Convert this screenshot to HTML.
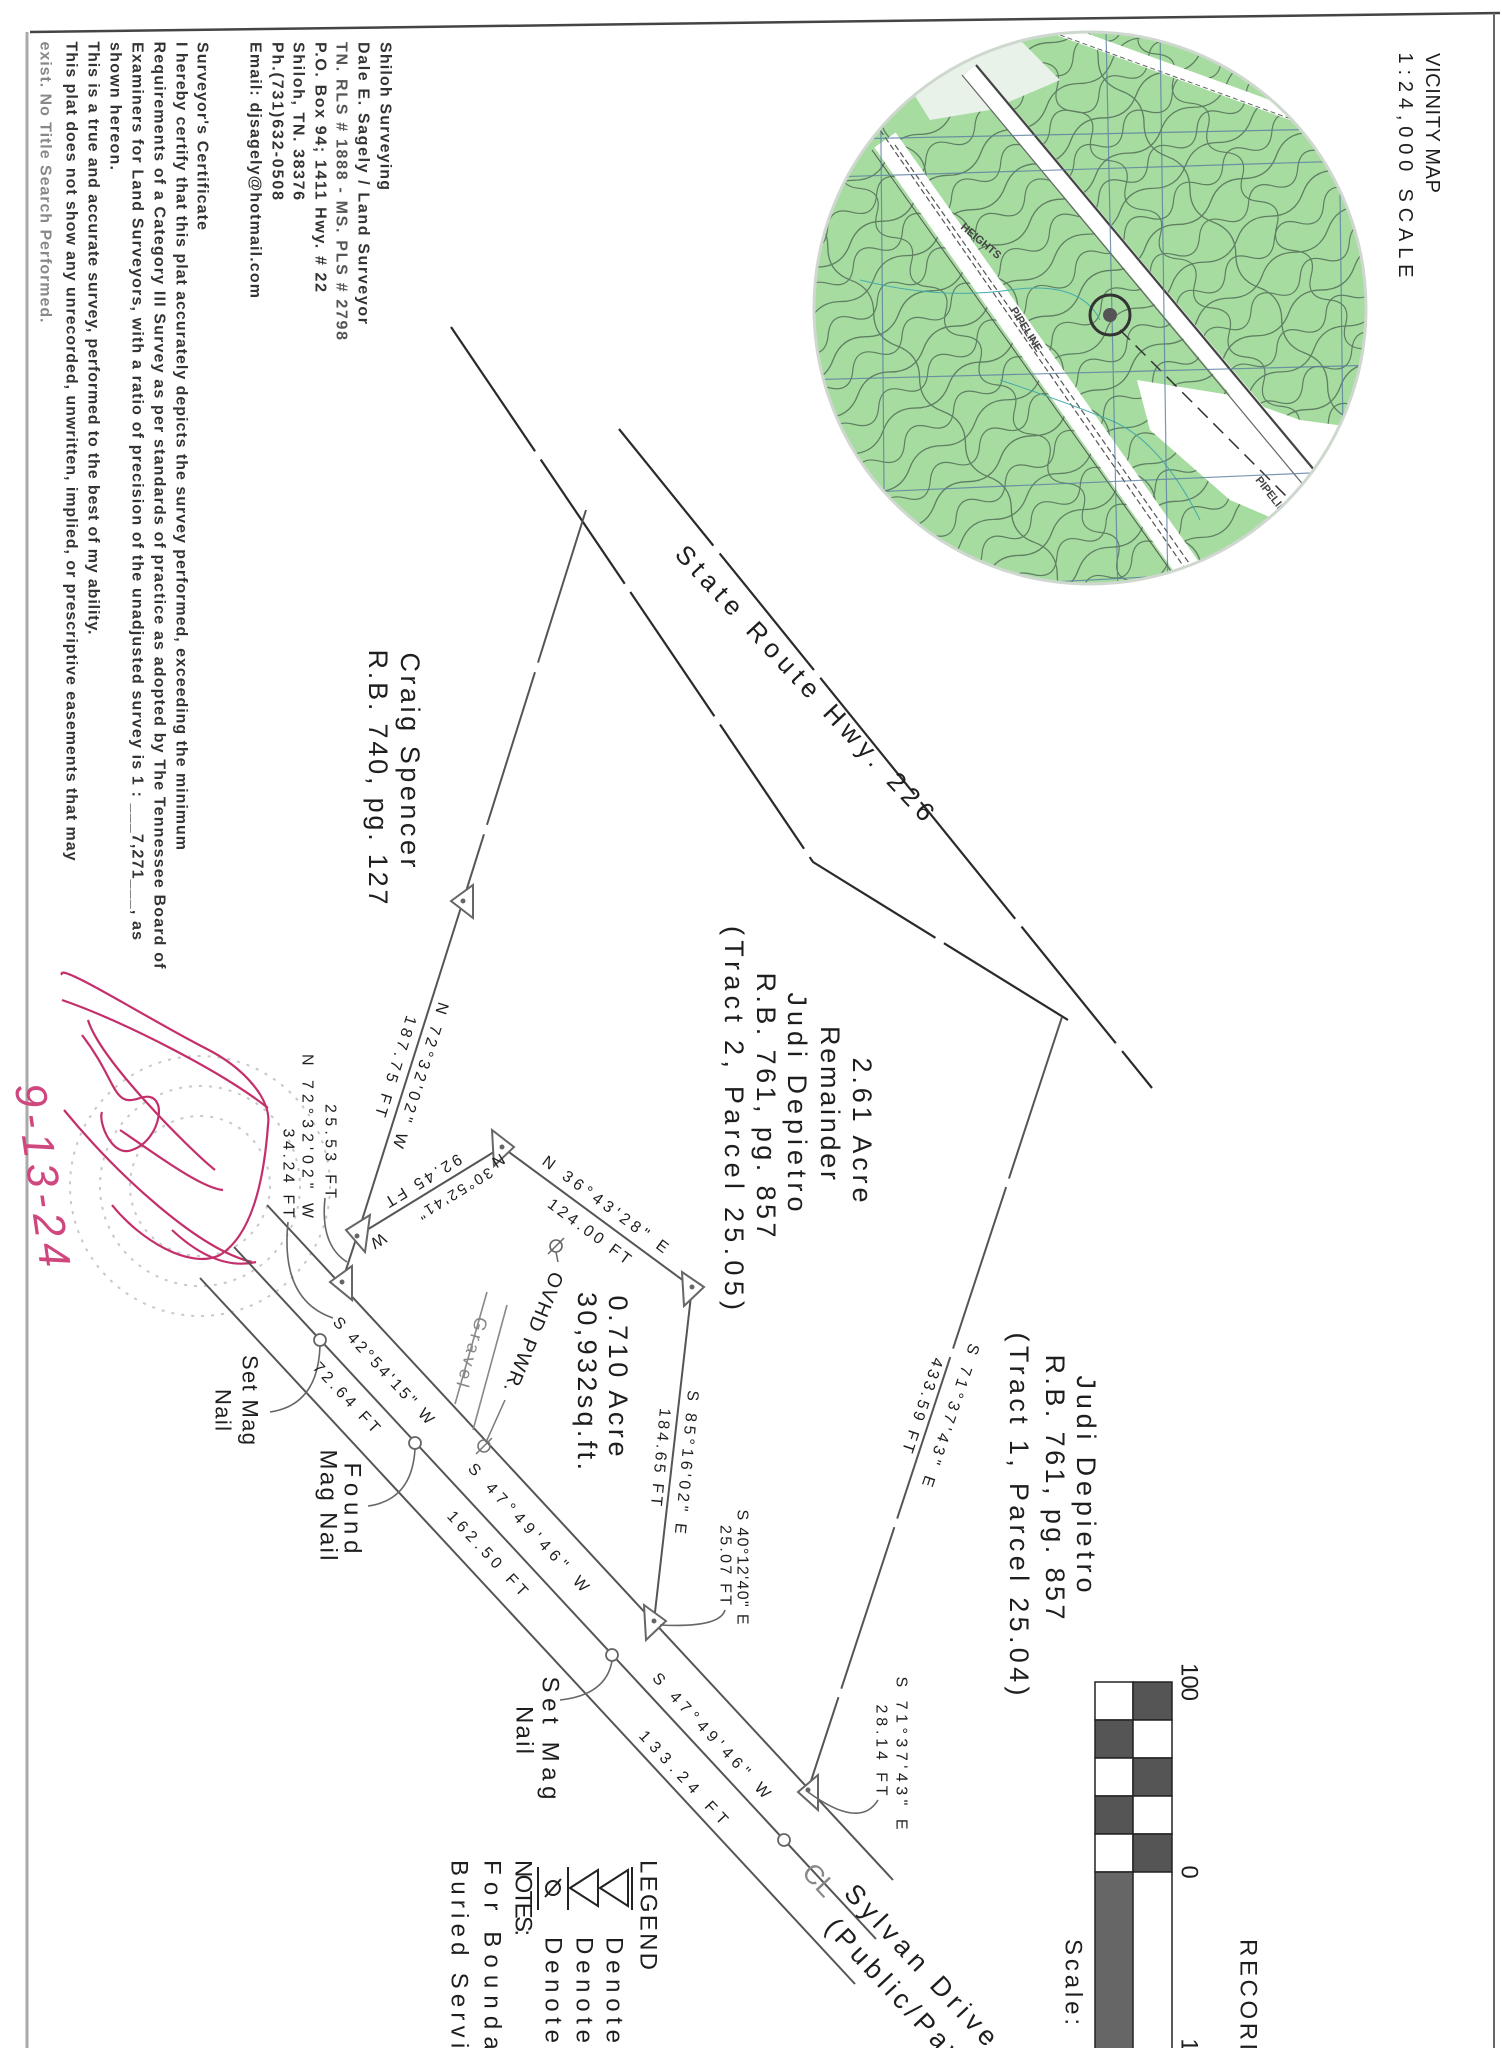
<!DOCTYPE html>
<html><head><meta charset="utf-8">
<style>
html,body{margin:0;padding:0;background:#fff;}
svg{display:block;}
text{font-family:"Liberation Sans",sans-serif;fill:#1e1e1e;}
.v{dominant-baseline:central;text-anchor:middle;}
.a{font-size:16px;font-weight:bold;fill:#333;}
.ln{stroke:#555;stroke-width:2;fill:none;}
.hw{stroke:#2a2a2a;stroke-width:2.2;fill:none;stroke-dasharray:150 10;}
.tri{fill:#fff;stroke:#666;stroke-width:2;}
</style></head>
<body>
<svg width="1502" height="2048" viewBox="0 0 1502 2048" xmlns="http://www.w3.org/2000/svg">
<defs>
<clipPath id="cc"><circle cx="1090" cy="308" r="276"/></clipPath>
<path id="wv" d="M-320,0 q20,-14 40,0 t40,0 t40,0 t40,0 t40,0 t40,0 t40,0 t40,0 t40,0 t40,0 t40,0 t40,0 t40,0 t40,0 t40,0 t40,0" fill="none" stroke="#5f7f62" stroke-width="1.3"/>
<path id="wv2" d="M-320,0 q15,18 30,0 t30,0 t30,0 t30,0 t30,0 t30,0 t30,0 t30,0 t30,0 t30,0 t30,0 t30,0 t30,0 t30,0 t30,0 t30,0 t30,0 t30,0 t30,0 t30,0 t30,0" fill="none" stroke="#5f7f62" stroke-width="1.2"/>
</defs>
<rect width="1502" height="2048" fill="#fff"/>

<!-- borders -->
<line x1="30" y1="32" x2="1500" y2="13" stroke="#444" stroke-width="2.5"/>
<line x1="1494" y1="13" x2="1494" y2="2048" stroke="#666" stroke-width="2"/>
<line x1="27" y1="32" x2="27" y2="2048" stroke="#aaa" stroke-width="3"/>

<!-- Vicinity map -->
<g clip-path="url(#cc)">
<circle cx="1090" cy="308" r="276" fill="#a7dca0"/>
<g transform="translate(1090,308) rotate(-35)">
<use href="#wv" y="-240"/><use href="#wv2" y="-215"/><use href="#wv" y="-190"/><use href="#wv2" y="-170"/>
<use href="#wv" y="-148"/><use href="#wv2" y="-128"/><use href="#wv" y="-105"/><use href="#wv2" y="-85"/>
<use href="#wv" y="-62"/><use href="#wv2" y="-40"/><use href="#wv" y="-18"/><use href="#wv2" y="5"/>
<use href="#wv" y="28"/><use href="#wv2" y="50"/><use href="#wv" y="72"/><use href="#wv2" y="95"/>
<use href="#wv" y="118"/><use href="#wv2" y="140"/><use href="#wv" y="162"/><use href="#wv2" y="185"/>
<use href="#wv" y="208"/><use href="#wv2" y="230"/><use href="#wv" y="252"/>
</g>
<g transform="translate(1090,308) rotate(55)">
<use href="#wv2" y="-200"/><use href="#wv" y="-150"/><use href="#wv2" y="-100"/><use href="#wv" y="60"/><use href="#wv2" y="120"/><use href="#wv" y="180"/>
</g>
<path d="M1137,380 L1230,395 1300,420 1374,430 1374,540 1300,530 1230,500 1150,430 Z" fill="#fff"/>
<path d="M880,40 L1000,20 1060,80 990,110 930,120 Z" fill="#e8f2e8"/>
<line x1="885" y1="140" x2="1210" y2="600" stroke="#fff" stroke-width="26"/>
<line x1="880" y1="130" x2="1200" y2="590" stroke="#555" stroke-width="1.2" stroke-dasharray="6 3"/>
<line x1="895" y1="145" x2="1215" y2="600" stroke="#555" stroke-width="1.2" stroke-dasharray="6 3"/>
<line x1="872" y1="150" x2="1195" y2="605" stroke="#555" stroke-width="1"/>
<line x1="970" y1="70" x2="1330" y2="500" stroke="#fff" stroke-width="18"/>
<line x1="976" y1="65" x2="1335" y2="495" stroke="#444" stroke-width="2.2"/>
<line x1="962" y1="75" x2="1320" y2="505" stroke="#666" stroke-width="1.2"/>
<line x1="1060" y1="30" x2="1390" y2="150" stroke="#fff" stroke-width="12"/>
<line x1="1060" y1="35" x2="1390" y2="155" stroke="#666" stroke-width="1" stroke-dasharray="5 3"/>
<line x1="1120" y1="330" x2="1290" y2="500" stroke="#333" stroke-width="1.5" stroke-dasharray="14 8"/>
<path d="M1000,380 Q1060,400 1110,420 T1200,520" fill="none" stroke="#4aa" stroke-width="1"/>
<path d="M860,280 Q940,300 1010,290 T1100,320" fill="none" stroke="#4aa" stroke-width="1"/>
<g stroke="#5a7fa0" stroke-width="1.2" opacity="0.8">
<line x1="880" y1="30" x2="885" y2="600"/><line x1="1106" y1="30" x2="1118" y2="600"/><line x1="1160" y1="30" x2="1168" y2="600"/><line x1="1338" y1="30" x2="1345" y2="600"/>
<line x1="800" y1="140" x2="1380" y2="128"/><line x1="800" y1="178" x2="1380" y2="160"/><line x1="800" y1="380" x2="1380" y2="365"/><line x1="800" y1="595" x2="1380" y2="565"/><line x1="800" y1="495" x2="1380" y2="470"/>
</g>
<circle cx="1110" cy="315" r="20" fill="none" stroke="#333" stroke-width="3"/>
<circle cx="1110" cy="315" r="7" fill="#555"/>
<text transform="translate(960,228) rotate(40)" style="font-size:11px;font-weight:bold;fill:#444">HEIGHTS</text>
<text transform="translate(1010,310) rotate(58)" style="font-size:11px;font-weight:bold;fill:#444">PIPELINE</text>
<text transform="translate(1255,480) rotate(52)" style="font-size:11px;font-weight:bold;fill:#444">PIPELINE</text>
</g>
<circle cx="1090" cy="308" r="276" fill="none" stroke="#cfd8cf" stroke-width="3"/>

<text class="v" transform="translate(1432,123) rotate(90)" textLength="140" style="font-size:20px">VICINITY MAP</text>
<text class="v" transform="translate(1405,165) rotate(90)" textLength="225" style="font-size:20px">1:24,000 SCALE</text>

<!-- surveyor block -->
<g class="a">
<text class="v a" transform="translate(385,116) rotate(90)" textLength="148">Shiloh Surveying</text>
<text class="v a" transform="translate(363,183) rotate(90)" textLength="282">Dale E. Sagely / Land Surveyor</text>
<text class="v a" transform="translate(341,191) rotate(90)" textLength="298" style="fill:#555">TN. RLS # 1888 - MS. PLS # 2798</text>
<text class="v a" transform="translate(320,167) rotate(90)" textLength="250">P.O. Box 94; 1411 Hwy. # 22</text>
<text class="v a" transform="translate(298,121) rotate(90)" textLength="158">Shiloh, TN. 38376</text>
<text class="v a" transform="translate(277,121) rotate(90)" textLength="158">Ph.(731)632-0508</text>
<text class="v a" transform="translate(255,170) rotate(90)" textLength="256">Email: djsagely@hotmail.com</text>
<text class="v a" transform="translate(202,136) rotate(90)" textLength="188">Surveyor's Certificate</text>
<text class="v a" transform="translate(181,446) rotate(90)" textLength="808">I hereby certify that this plat accurately depicts the survey performed, exceeding the minimum</text>
<text class="v a" transform="translate(159,505) rotate(90)" textLength="927">Requirements of a Category III Survey as per standards of practice as adopted by The Tennessee Board of</text>
<text class="v a" transform="translate(137,491) rotate(90)" textLength="898">Examiners for Land Surveyors, with a ratio of precision of the unadjusted survey is 1 : ___7,271___, as</text>
<text class="v a" transform="translate(115,106) rotate(90)" textLength="128">shown hereon.</text>
<text class="v a" transform="translate(93,338) rotate(90)" textLength="593">This is a true and accurate survey, performed to the best of my ability.</text>
<text class="v a" transform="translate(71,451) rotate(90)" textLength="819">This plat does not show any unrecorded, unwritten, implied, or prescriptive easements that may</text>
<text class="v a" transform="translate(45,182) rotate(90)" textLength="281" style="fill:#888">exist. No Title Search Performed.</text>
</g>

<!-- stamp -->
<g fill="none" stroke="#c8c8c8" stroke-width="2" stroke-dasharray="3 7">
<circle cx="200" cy="1186" r="130"/><circle cx="200" cy="1186" r="100"/><circle cx="200" cy="1186" r="70"/>
</g>
<!-- signature -->
<g fill="none" stroke="#c42e6a" stroke-width="2.2">
<path d="M62,975 C55,960 150,1020 205,1048 C245,1068 272,1100 268,1125 C264,1180 252,1235 220,1255 C190,1270 140,1240 112,1205"/>
<path d="M62,1000 C120,1020 220,1070 268,1108"/>
<path d="M82,1035 C118,1082 112,1108 140,1098 C170,1088 162,1140 132,1150 C112,1158 98,1122 102,1112"/>
<path d="M120,1130 C150,1150 200,1188 223,1190"/>
<path d="M64,1110 C120,1178 200,1250 252,1262"/>
<path d="M172,1230 C202,1258 230,1268 256,1262"/>
<path d="M88,1020 C100,1060 190,1150 215,1170"/>
</g>
<text transform="translate(42,1175) rotate(82)" text-anchor="middle" dominant-baseline="central" textLength="185" style="font-size:44px;font-style:italic;fill:#d0467e">9-13-24</text>

<!-- highway -->
<path class="hw" d="M451,327 L813,862 L1068,1020"/>
<line class="hw" x1="619" y1="429" x2="1152" y2="1088"/>
<text class="v" transform="translate(805,683) rotate(47)" textLength="366" style="font-size:26px">State Route Hwy. 226</text>

<!-- boundary lines -->
<line class="ln" x1="586" y1="510" x2="463" y2="901" stroke-dasharray="160 10"/>
<line class="ln" x1="463" y1="901" x2="357" y2="1236"/>
<line class="ln" x1="357" y1="1236" x2="342" y2="1282"/>
<line class="ln" x1="357" y1="1236" x2="502" y2="1147"/>
<line class="ln" x1="502" y1="1147" x2="692" y2="1287"/>
<line class="ln" x1="692" y1="1287" x2="654" y2="1621"/>
<line class="ln" x1="1062" y1="1017" x2="808" y2="1790" stroke-dasharray="170 9"/>

<!-- road lines -->
<line class="ln" x1="267" y1="1205" x2="893" y2="1880"/>
<line class="ln" x1="234" y1="1247" x2="876" y2="1939"/>
<line class="ln" x1="200" y1="1278" x2="855" y2="1984"/>

<!-- gravel -->
<line x1="487" y1="1292" x2="455" y2="1404" stroke="#888" stroke-width="1.6"/>
<line x1="507" y1="1305" x2="473" y2="1430" stroke="#888" stroke-width="1.6"/>
<text class="v" transform="translate(472,1352) rotate(106)" textLength="72" style="font-size:18px;fill:#888">Gravel</text>
<circle cx="556" cy="1246" r="6" fill="none" stroke="#666" stroke-width="1.6"/>
<line x1="548" y1="1254" x2="564" y2="1238" stroke="#666" stroke-width="1.5"/>
<circle cx="484" cy="1446" r="6" fill="none" stroke="#777" stroke-width="1.6"/>
<line x1="476" y1="1454" x2="492" y2="1438" stroke="#777" stroke-width="1.5"/>
<line x1="556" y1="1252" x2="558" y2="1262" stroke="#666" stroke-width="1.5"/>
<line x1="505" y1="1400" x2="487" y2="1440" stroke="#777" stroke-width="1.5"/>
<text class="v" transform="translate(533,1332) rotate(112)" textLength="128" style="font-size:20px">OVHD PWR.</text>

<g fill="#fff" stroke="#666" stroke-width="1.8">
<circle cx="320" cy="1340" r="6"/><circle cx="415" cy="1443" r="6"/><circle cx="612" cy="1655" r="6"/><circle cx="784" cy="1840" r="6"/>
</g>
<g class="tri">
<path d="M451,901 L473,885 473,918 Z"/>
<path d="M346,1230 L370,1215 365,1252 Z"/>
<path d="M330,1282 L352,1266 352,1300 Z"/>
<path d="M514,1147 L492,1130 494,1166 Z"/>
<path d="M704,1287 L682,1272 684,1306 Z"/>
<path d="M666,1621 L644,1605 646,1640 Z"/>
<path d="M798,1792 L818,1775 818,1810 Z"/>
</g>
<g fill="#666"><circle cx="463" cy="901" r="2.5"/><circle cx="357" cy="1236" r="2.5"/><circle cx="342" cy="1282" r="2.5"/><circle cx="502" cy="1147" r="2.5"/><circle cx="692" cy="1287" r="2.5"/><circle cx="654" cy="1621" r="2.5"/><circle cx="808" cy="1790" r="2.5"/></g>

<g fill="none" stroke="#666" stroke-width="1.6">
<path d="M325,1198 Q320,1245 347,1262"/>
<path d="M288,1222 Q280,1300 333,1318"/>
<path d="M320,1346 Q318,1405 270,1412"/>
<path d="M415,1449 Q412,1500 368,1506"/>
<path d="M612,1661 Q606,1695 560,1700"/>
<path d="M725,1610 Q720,1628 660,1625"/>
<path d="M878,1800 Q860,1830 808,1792"/>
</g>

<g style="font-size:16px">
<text class="v" transform="translate(420,1075) rotate(107.6)" textLength="152">N 72°32'02" W</text>
<text class="v" transform="translate(395,1066) rotate(107.6)" textLength="105">187.75 FT</text>
<text class="v" transform="translate(423,1180) rotate(148.5)" textLength="87">92.45 FT</text>
<text class="v" transform="translate(455,1193) rotate(148.5)" textLength="85" style="font-size:15px">30°52'41"</text>
<text class="v" transform="translate(498,1160) rotate(148.5)">N</text>
<text class="v" transform="translate(378,1240) rotate(148.5)">W</text>
<text class="v" transform="translate(605,1205) rotate(36.4)" textLength="152">N 36°43'28" E</text>
<text class="v" transform="translate(589,1232) rotate(36.4)" textLength="99">124.00 FT</text>
<text class="v" transform="translate(686,1462) rotate(95.3)" textLength="144">S 85°16'02" E</text>
<text class="v" transform="translate(660,1457) rotate(95.3)" textLength="98">184.65 FT</text>
<text class="v" transform="translate(950,1415) rotate(108.6)" textLength="150">S 71°37'43" E</text>
<text class="v" transform="translate(922,1405) rotate(108.6)" textLength="99">433.59 FT</text>
<text class="v" transform="translate(383,1371) rotate(47)" textLength="140">S 42°54'15" W</text>
<text class="v" transform="translate(346,1398) rotate(47)" textLength="90">72.64 FT</text>
<text class="v" transform="translate(528,1528) rotate(47)" textLength="169">S 47°49'46" W</text>
<text class="v" transform="translate(487,1554) rotate(47)" textLength="110">162.50 FT</text>
<text class="v" transform="translate(711,1736) rotate(47)" textLength="165">S 47°49'46" W</text>
<text class="v" transform="translate(683,1778) rotate(47)" textLength="122">133.24 FT</text>
<text class="v" transform="translate(901,1753) rotate(90)" textLength="153">S 71°37'43" E</text>
<text class="v" transform="translate(881,1750) rotate(90)" textLength="91">28.14 FT</text>
<text class="v" transform="translate(742,1567) rotate(90)" textLength="115">S 40°12'40" E</text>
<text class="v" transform="translate(725,1565) rotate(90)" textLength="80">25.07 FT</text>
<text class="v" transform="translate(330,1151) rotate(90)" textLength="94">25.53 FT</text>
<text class="v" transform="translate(307,1136) rotate(90)" textLength="164">N 72°32'02" W</text>
<text class="v" transform="translate(288,1173) rotate(90)" textLength="89">34.24 FT</text>
</g>

<g style="font-size:27px">
<text class="v" transform="translate(410,760) rotate(90)" textLength="215">Craig Spencer</text>
<text class="v" transform="translate(378,777) rotate(90)" textLength="255">R.B. 740, pg. 127</text>
<text class="v" transform="translate(862,1130) rotate(90)" textLength="145">2.61 Acre</text>
<text class="v" transform="translate(830,1103) rotate(90)" textLength="154">Remainder</text>
<text class="v" transform="translate(797,1102) rotate(90)" textLength="219">Judi Depietro</text>
<text class="v" transform="translate(766,1105) rotate(90)" textLength="265">R.B. 761, pg. 857</text>
<text class="v" transform="translate(734,1118) rotate(90)" textLength="384">(Tract 2, Parcel 25.05)</text>
<text class="v" transform="translate(1086,1484) rotate(90)" textLength="217">Judi Depietro</text>
<text class="v" transform="translate(1055,1487) rotate(90)" textLength="265">R.B. 761, pg. 857</text>
<text class="v" transform="translate(1019,1514) rotate(90)" textLength="363">(Tract 1, Parcel 25.04)</text>
<text class="v" transform="translate(618,1376) rotate(90)" textLength="161">0.710 Acre</text>
<text class="v" transform="translate(587,1381) rotate(90)" textLength="178">30,932sq.ft.</text>
<text class="v" transform="translate(250,1400) rotate(90)" textLength="90" style="font-size:22px">Set Mag</text>
<text class="v" transform="translate(223,1410) rotate(90)" textLength="42" style="font-size:22px">Nail</text>
<text class="v" transform="translate(352,1508) rotate(90)" textLength="91" style="font-size:24px">Found</text>
<text class="v" transform="translate(328,1505) rotate(90)" textLength="111" style="font-size:24px">Mag Nail</text>
<text class="v" transform="translate(550,1738) rotate(90)" textLength="123" style="font-size:24px">Set Mag</text>
<text class="v" transform="translate(524,1730) rotate(90)" textLength="48" style="font-size:24px">Nail</text>
<text class="v" transform="translate(921,1965) rotate(47)" textLength="210">Sylvan Drive</text>
<text class="v" transform="translate(912,2010) rotate(47)" textLength="240">(Public/Paved)</text>
<text class="v" transform="translate(819,1880) rotate(47)" style="fill:#888">CL</text>
</g>

<g stroke="#222" stroke-width="1.5">
<rect x="1095" y="1682" width="38" height="38" fill="#fff"/><rect x="1133" y="1682" width="39" height="38" fill="#555"/>
<rect x="1095" y="1720" width="38" height="38" fill="#555"/><rect x="1133" y="1720" width="39" height="38" fill="#fff"/>
<rect x="1095" y="1758" width="38" height="38" fill="#fff"/><rect x="1133" y="1758" width="39" height="38" fill="#555"/>
<rect x="1095" y="1796" width="38" height="38" fill="#555"/><rect x="1133" y="1796" width="39" height="38" fill="#fff"/>
<rect x="1095" y="1834" width="38" height="38" fill="#fff"/><rect x="1133" y="1834" width="39" height="38" fill="#555"/>
<rect x="1095" y="1872" width="38" height="190" fill="#666"/>
<line x1="1172" y1="1872" x2="1172" y2="2048"/>
</g>
<g style="font-size:24px">
<text class="v" transform="translate(1189,1682) rotate(90)" textLength="38">100</text>
<text class="v" transform="translate(1189,1872) rotate(90)">0</text>
<text class="v" transform="translate(1189,2045) rotate(90)">1</text>
<text class="v" transform="translate(1073,1982) rotate(90)" textLength="86">Scale:</text>
<text class="v" transform="translate(1248,2000) rotate(90)" textLength="122">RECORD</text>
<text class="v" transform="translate(648,1915) rotate(90)" textLength="110">LEGEND</text>
<text class="v" transform="translate(614,1990) rotate(90)" textLength="106">Denote</text>
<text class="v" transform="translate(584,1990) rotate(90)" textLength="106">Denote</text>
<text class="v" transform="translate(553,1990) rotate(90)" textLength="106">Denote</text>
<text class="v" transform="translate(523,1898) rotate(90)" textLength="76">NOTES:</text>
<text class="v" transform="translate(492,1972) rotate(90)" textLength="224">For Boundary</text>
<text class="v" transform="translate(459,1972) rotate(90)" textLength="224">Buried Service</text>
</g>
<g fill="none" stroke="#222" stroke-width="2">
<path d="M600,1888 L628,1870 628,1906 Z"/><line x1="632" y1="1867" x2="632" y2="1910"/>
<path d="M570,1888 L598,1870 598,1906 Z"/><line x1="568" y1="1867" x2="568" y2="1910"/>
<circle cx="553" cy="1888" r="7"/><line x1="545" y1="1897" x2="561" y2="1879"/><line x1="538" y1="1867" x2="538" y2="1910"/>
</g>
</svg>
</body></html>
